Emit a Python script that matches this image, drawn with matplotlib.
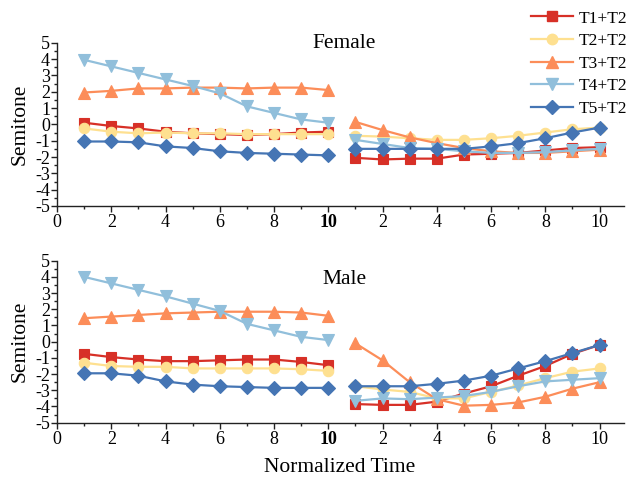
import matplotlib
matplotlib.use("Agg")
import matplotlib.pyplot as plt
from matplotlib.lines import Line2D

plt.rcParams['font.family'] = ['Liberation Serif', 'DejaVu Serif']

# ---------------- data ----------------
time_points = [1, 2, 3, 4, 5, 6, 7, 8, 9, 10]
series_labels = ["T1+T2", "T2+T2", "T3+T2", "T4+T2", "T5+T2"]
colors = ["#d73027", "#fee090", "#fc8d59", "#91bfdb", "#4575b4"]
markers = ["s", "o", "^", "v", "D"]

# Female, first syllable
female_T1_s1 = [0.1, -0.1, -0.25, -0.45, -0.55, -0.6, -0.65, -0.6, -0.5, -0.45]
female_T2_s1 = [-0.25, -0.45, -0.55, -0.5, -0.55, -0.55, -0.6, -0.6, -0.6, -0.6]
female_T3_s1 = [1.95, 2.05, 2.2, 2.2, 2.25, 2.25, 2.2, 2.25, 2.25, 2.1]
female_T4_s1 = [3.95, 3.55, 3.15, 2.75, 2.35, 1.9, 1.1, 0.7, 0.3, 0.1]
female_T5_s1 = [-1.05, -1.05, -1.1, -1.35, -1.45, -1.65, -1.75, -1.8, -1.85, -1.9]
# Female, second syllable
female_T1_s2 = [-2.05, -2.15, -2.1, -2.1, -1.85, -1.8, -1.75, -1.6, -1.45, -1.4]
female_T2_s2 = [-0.7, -0.75, -0.85, -0.95, -0.95, -0.85, -0.7, -0.5, -0.3, -0.2]
female_T3_s2 = [0.15, -0.35, -0.8, -1.15, -1.45, -1.65, -1.75, -1.75, -1.65, -1.55]
female_T4_s2 = [-0.95, -1.2, -1.45, -1.5, -1.65, -1.75, -1.75, -1.7, -1.6, -1.5]
female_T5_s2 = [-1.5, -1.5, -1.5, -1.5, -1.5, -1.35, -1.15, -0.85, -0.5, -0.2]

# Male, first syllable
male_T1_s1 = [-0.75, -0.95, -1.1, -1.2, -1.2, -1.15, -1.1, -1.1, -1.25, -1.45]
male_T2_s1 = [-1.3, -1.5, -1.55, -1.55, -1.65, -1.65, -1.65, -1.65, -1.7, -1.8]
male_T3_s1 = [1.45, 1.55, 1.65, 1.75, 1.8, 1.85, 1.85, 1.85, 1.8, 1.6]
male_T4_s1 = [4.0, 3.6, 3.2, 2.8, 2.35, 1.9, 1.1, 0.7, 0.3, 0.1]
male_T5_s1 = [-1.95, -1.95, -2.1, -2.45, -2.65, -2.75, -2.8, -2.85, -2.85, -2.85]
# Male, second syllable
male_T1_s2 = [-3.85, -3.9, -3.9, -3.7, -3.2, -2.75, -2.1, -1.5, -0.75, -0.2]
male_T2_s2 = [-2.75, -2.95, -3.1, -3.5, -3.5, -3.1, -2.7, -2.25, -1.85, -1.65]
male_T3_s2 = [-0.1, -1.15, -2.5, -3.55, -3.95, -3.9, -3.75, -3.4, -2.9, -2.5]
male_T4_s2 = [-3.65, -3.5, -3.55, -3.45, -3.35, -3.1, -2.75, -2.45, -2.35, -2.25]
male_T5_s2 = [-2.75, -2.75, -2.75, -2.6, -2.4, -2.1, -1.65, -1.2, -0.7, -0.2]

female_s1 = [female_T1_s1, female_T2_s1, female_T3_s1, female_T4_s1, female_T5_s1]
female_s2 = [female_T1_s2, female_T2_s2, female_T3_s2, female_T4_s2, female_T5_s2]
male_s1 = [male_T1_s1, male_T2_s1, male_T3_s1, male_T4_s1, male_T5_s1]
male_s2 = [male_T1_s2, male_T2_s2, male_T3_s2, male_T4_s2, male_T5_s2]

x_tick_labels = ["0", "2", "4", "6", "8", "10", "2", "4", "6", "8", "10"]
y_ticks = [5, 4, 3, 2, 1, 0, -1, -2, -3, -4, -5]

# ---------------- figure ----------------
fig = plt.figure(figsize=(6.28, 4.86), dpi=100)
W, H = 628, 486
left, right = 57 / W, 624 / W
ax_top = fig.add_axes([left, 1 - 206 / H, right - left, (206 - 42.7) / H])
ax_bot = fig.add_axes([left, 1 - 422.7 / H, right - left, (422.7 - 260.7) / H])

offset = len(time_points)
x_s1 = time_points
x_s2 = [t + offset for t in time_points]

msizes = [6.5, 7.5, 8, 8, 7]


def draw(ax, s1, s2, title, title_y):
    for i in range(5):
        for xs, ys in ((x_s1, s1[i]), (x_s2, s2[i])):
            ax.plot(xs, ys, color=colors[i], marker=markers[i], lw=1.6,
                    markersize=msizes[i], markeredgecolor=colors[i],
                    markeredgewidth=0.8, zorder=2 + i, clip_on=False)
    ax.set_xlim(0, 20.9)
    ax.set_ylim(-5, 5)
    ax.set_xticks(range(0, 21, 2))
    ax.set_xticklabels(x_tick_labels)
    ax.set_xticks(range(1, 21, 2), minor=True)
    ax.set_yticks(y_ticks)
    ax.set_yticklabels([str(v) for v in y_ticks])
    ax.set_yticks([v + 0.5 for v in range(-5, 5)], minor=True)
    for s in ("top", "right"):
        ax.spines[s].set_visible(False)
    for s in ("left", "bottom"):
        ax.spines[s].set_linewidth(1.0)
        ax.spines[s].set_color("#222222")
    ax.tick_params(axis="both", which="major", direction="out", length=4,
                   width=1.0, color="#222222", labelsize=13, pad=2)
    ax.tick_params(axis="both", which="minor", direction="out", length=2.5,
                   width=1.0, color="#222222")
    ax.tick_params(axis="y", pad=1)
    ax.set_ylabel("Semitone", fontsize=15.5, labelpad=4)
    ax.text(10.6, title_y, title, fontsize=15.5, ha="center", va="center")
    # boundary label "10" appears overprinted (bold) in the original
    ax.get_xticklabels()[5].set_fontweight("bold")


draw(ax_top, female_s1, female_s2, "Female", 4.98)
draw(ax_bot, male_s1, male_s2, "Male", 3.87)

fig.text(340 / W, 1 - 468 / H, "Normalized Time", fontsize=15.5,
         ha="center", va="center")

handles = [Line2D([0], [0], color=colors[i], marker=markers[i], lw=1.6,
                  markersize=msizes[i], markeredgecolor=colors[i])
           for i in range(5)]
fig.legend(handles, series_labels, loc="upper right",
           bbox_to_anchor=(1.0 + 10 / W, 1.0 - 0 / H), frameon=False,
           fontsize=12.5, handlelength=2.4, handletextpad=0.35,
           labelspacing=0.37, borderaxespad=0.2)

fig.savefig("out.png", dpi=100)
